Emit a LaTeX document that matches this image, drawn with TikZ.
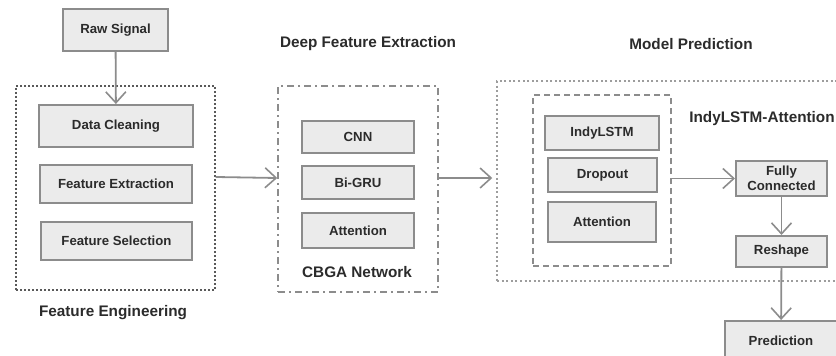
\documentclass[tikz,border=0pt]{standalone}
\usepackage{fontspec}
\setmainfont{Liberation Sans}
\usetikzlibrary{arrows.meta}

\definecolor{boxfill}{HTML}{EBEBEB}
\definecolor{boxline}{HTML}{8C8C8C}
\definecolor{txtgray}{HTML}{2B2B2B}

\tikzset{
    block/.style={draw=boxline, line width=2pt, fill=boxfill, text=txtgray,
        font=\fontsize{13.2}{15.5}\selectfont\bfseries, align=center, inner sep=0pt},
    group/.style={line width=1.5pt, inner sep=0pt},
    title/.style={text=txtgray, font=\fontsize{15.3}{18}\selectfont\bfseries},
    flow/.style={draw=boxline, line width=1.8pt, -{Straight Barb[length=11pt, width=20pt, line width=1.6pt]}}
}

\begin{document}
\begin{tikzpicture}[x=1pt, y=-1pt]

    \useasboundingbox (0,0) rectangle (836,356);

    % Feature engineering stage
    \node[group, draw=black!65, dash pattern=on 2pt off 2pt, minimum width=199pt, minimum height=204pt] (fe) at (115.5,188) {};
    \node[block, minimum width=105pt, minimum height=42pt] (raw) at (115.5,30) {Raw Signal};
    \node[block, minimum width=154pt, minimum height=42pt] (clean) at (116,126) {Data Cleaning};
    \node[block, minimum width=152pt, minimum height=38pt] (fx) at (116,184) {Feature Extraction};
    \node[block, minimum width=151pt, minimum height=38pt] (fs) at (116.5,241) {Feature Selection};
    \node[title] (felabel) at (113,313) {Feature Engineering};

    % CBGA network
    \node[title] (dfelabel) at (368,44) {Deep Feature Extraction};
    \node[group, draw=boxline, dash pattern=on 7pt off 4pt on 2pt off 4pt, minimum width=160pt, minimum height=206pt] (cbga) at (358,189) {};
    \node[block, minimum width=112pt, minimum height=32pt] (cnn) at (358,137) {CNN};
    \node[block, minimum width=112pt, minimum height=33pt] (gru) at (358,182.5) {Bi-GRU};
    \node[block, minimum width=112pt, minimum height=35pt] (att) at (358,230.5) {Attention};
    \node[title] (cbgalabel) at (357,272) {CBGA Network};

    % Model prediction
    \node[title] (mplabel) at (691,44) {Model Prediction};
    \node[group, draw=boxline!85, dash pattern=on 2pt off 2.6pt, minimum width=360pt, minimum height=200pt] (model) at (677,181) {};
    \node[group, draw=boxline, dash pattern=on 6pt off 4pt, minimum width=138pt, minimum height=171pt] (inner) at (602,180.5) {};
    \node[block, minimum width=114pt, minimum height=34pt] (indy) at (602,133) {IndyLSTM};
    \node[block, minimum width=109pt, minimum height=34pt] (drop) at (602.5,175) {Dropout};
    \node[block, minimum width=108pt, minimum height=40pt] (att2) at (602,222) {Attention};
    \node[title] (indylabel) at (762,119) {IndyLSTM-Attention};
    \node[block, minimum width=91pt, minimum height=35pt] (fc) at (781.5,178.5) {Fully\\Connected};
    \node[block, minimum width=91pt, minimum height=31pt] (reshape) at (781.5,251.5) {Reshape};
    \node[block, minimum width=112pt, minimum height=40pt] (pred) at (781,341) {Prediction};

    % Connectors
    \draw[flow] (raw) -- (clean);
    \draw[flow] ([yshift=11pt]fe.east) -- ([yshift=11pt]cbga.west);
    \draw[flow] ([yshift=11pt]cbga.east) -- ([yshift=11pt, xshift=-4pt]cbga.east -| model.west);
    \draw[flow] (inner.east |- fc.west) -- (fc.west);
    \draw[flow] (fc) -- (reshape);
    \draw[flow] (reshape) -- (pred);

\end{tikzpicture}
\end{document}
